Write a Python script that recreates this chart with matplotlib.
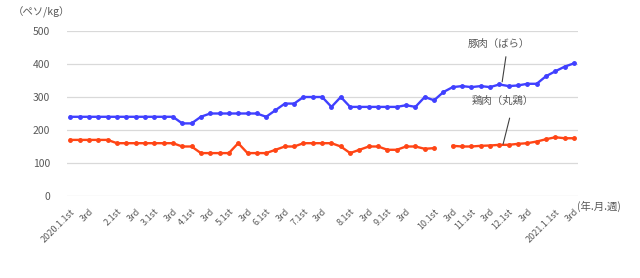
import numpy as np
import matplotlib.pyplot as plt

plt.rcParams['font.family'] = ['Noto Sans CJK JP', 'DejaVu Sans']

# weekly prices, 2020 week 1 of Jan .. 2021 week 3 of Jan
pork = [240, 240, 240, 240, 240, 240, 240, 240, 240, 240, 240, 240,
        220, 220, 240, 250, 250, 250, 250, 250, 250, 240, 260, 280, 280,
        300, 300, 300, 270, 300, 270, 270, 270, 270, 270, 270, 275, 270,
        300, 290, 315, 330, 333, 330, 333, 330, 338, 333, 335, 340, 340,
        363, 378, 392, 402]
chicken = [170, 170, 170, 170, 170, 160, 160, 160, 160, 160, 160, 160,
           150, 150, 130, 130, 130, 130, 160, 130, 130, 130, 140, 150, 150,
           160, 160, 160, 160, 150, 130, 140, 150, 150, 140, 140, 150, 150,
           143, 145, np.nan, 152, 150, 150, 152, 153, 155, 155, 158, 160, 165,
           172, 178, 175, 175]

tick_pos = [0, 2, 5, 7, 9, 11, 13, 15, 17, 19, 21, 23, 25, 27, 30, 32, 34, 36,
            39, 41, 43, 45, 47, 49, 52, 54]
tick_labels = ["2020.1.1st", "3rd", "2.1st", "3rd", "3.1st", "3rd", "4.1st", "3rd",
               "5.1st", "3rd", "6.1st", "3rd", "7.1st", "3rd", "8.1st", "3rd",
               "9.1st", "3rd", "10.1st", "3rd", "11.1st", "3rd", "12.1st", "3rd",
               "2021.1.1st", "3rd"]

blue = "#4040FF"
red = "#FF4515"
grey = "#595959"

fig = plt.figure(figsize=(6.4, 2.78), dpi=100)
ax = fig.add_axes([0.1047, 0.295, 0.798, 0.5935])

x = np.arange(len(pork))
ax.plot(x, pork, color=blue, lw=1.7, marker="o", ms=2.5, zorder=3)
ax.plot(x, chicken, color=red, lw=1.7, marker="o", ms=2.5, zorder=3)

ax.set_xlim(-0.35, 54.4)
ax.set_ylim(0, 500)
ax.set_yticks(np.arange(0, 501, 100))
ax.yaxis.grid(True, color="#D9D9D9", lw=0.9)
ax.set_axisbelow(True)
for s in ax.spines.values():
    s.set_visible(False)
ax.tick_params(axis="y", length=0, pad=12, labelsize=7.5, labelcolor=grey)
ax.set_xticks(tick_pos)
ax.set_xticklabels(tick_labels, rotation=45, ha="right", rotation_mode="anchor",
                   fontsize=6.5, color=grey)
ax.tick_params(axis="x", length=0, pad=8)

fig.text(0.02, 0.955, "（ペソ/kg）", fontsize=7.5, color=grey, va="center")
fig.text(0.902, 0.258, "(年.月.週)", fontsize=7.5, color=grey, va="center")

# series labels with leader lines
ax.text(45.9, 460, "豚肉（ばら）", ha="center", va="center", fontsize=7.5, color=grey)
ax.annotate("", xy=(46.3, pork[46] + 8), xytext=(46.7, 422),
            arrowprops=dict(arrowstyle="-", color="#404040", lw=0.8,
                            shrinkA=0, shrinkB=0))
ax.text(46.4, 288, "鶏肉（丸鶏）", ha="center", va="center", fontsize=7.5, color=grey)
ax.annotate("", xy=(46.4, chicken[46] + 2), xytext=(47.1, 236),
            arrowprops=dict(arrowstyle="-", color="#404040", lw=0.8,
                            shrinkA=0, shrinkB=0))

fig.savefig("out.png", dpi=100)
